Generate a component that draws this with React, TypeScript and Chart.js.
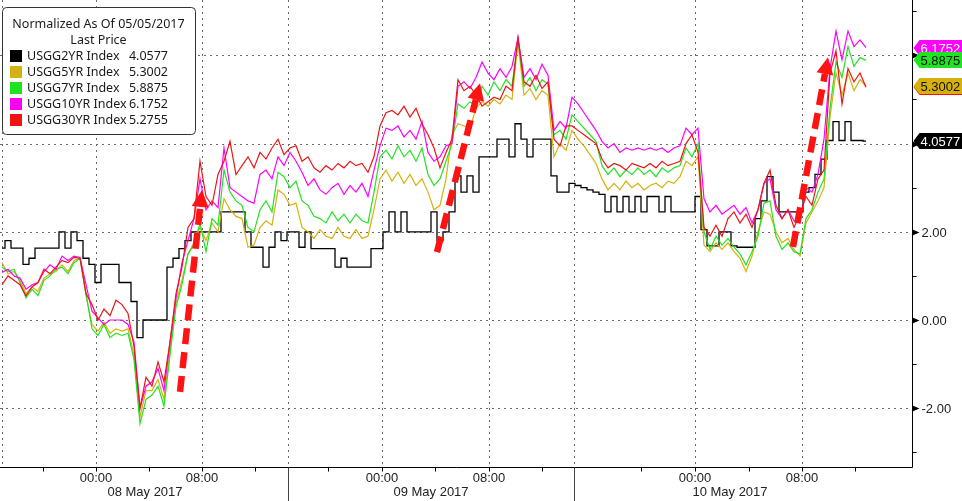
import React, { useEffect, useRef } from 'react';
import { Chart, registerables } from 'chart.js';

Chart.register(...registerables);

// ---- series (one sample per step along the intraday time axis) ----
const USGG2YR = [
  1.63, 1.8, 1.63, 1.63, 1.26, 1.4, 1.63, 1.63, 1.63, 1.63,
  2.0, 1.63, 2.0, 1.8, 1.4, 1.26, 0.85, 1.26, 1.26, 1.26,
  0.85, 0.85, 0.42, -0.4, 0.0, 0.0, 0.0, 0.0, 1.2, 1.4,
  1.62, 1.8, 2.0, 2.0, 2.0, 2.0, 2.0, 2.45, 2.45, 2.45,
  2.45, 2.0, 1.65, 1.65, 1.2, 1.65, 2.0, 1.8, 2.0, 2.0,
  1.65, 2.0, 1.62, 1.62, 1.62, 1.62, 1.2, 1.4, 1.2, 1.2,
  1.2, 1.2, 1.62, 1.62, 2.0, 2.45, 2.0, 2.45, 2.0, 2.0,
  2.0, 2.0, 2.45, 1.8, 2.0, 2.45, 3.27, 2.9, 3.27, 2.9,
  3.7, 3.7, 3.7, 4.1, 4.1, 3.7, 4.45, 4.1, 3.7, 4.1,
  4.1, 4.1, 3.27, 2.9, 2.9, 3.1, 3.05, 3.0, 2.95, 2.9,
  2.85, 2.45, 2.8, 2.45, 2.8, 2.45, 2.8, 2.45, 2.8, 2.8,
  2.45, 2.8, 2.45, 2.45, 2.45, 2.45, 2.8, 2.05, 1.68, 1.68,
  2.0, 2.0, 1.68, 1.65, 1.65, 1.65, 2.3, 2.7, 3.25, 2.9,
  2.45, 2.45, 2.45, 2.45, 2.9, 3.0, 3.3, 3.65, 4.07, 4.5,
  4.07, 4.5, 4.07, 4.07, 4.0577,
];
const USGG5YR = [
  1.3, 1.05, 1.1, 0.9, 0.6, 0.75, 0.65, 0.95, 1.05, 1.1,
  1.25, 1.1, 1.35, 1.4, 0.55, -0.1, -0.25, -0.05, -0.3, -0.2,
  -0.25, -0.2, -0.8, -2.2, -1.6, -1.6, -1.35, -1.8, -0.7, 0.4,
  0.9, 1.5, 1.75, 2.1, 1.8, 2.2, 2.0, 2.75, 2.5, 2.35,
  2.3, 1.65, 1.7, 2.1, 2.25, 2.15, 2.95, 2.85, 2.6, 2.65,
  2.1, 2.0, 1.85, 2.05, 1.9, 1.85, 2.1, 1.9, 1.85, 2.05,
  1.85, 1.9, 2.5, 3.2, 3.4, 3.15, 3.35, 3.1, 3.3, 3.05,
  3.2, 2.9, 2.5, 2.6, 3.2, 4.2, 4.45, 4.4, 4.35, 4.8,
  4.95, 4.85, 5.0, 4.9, 5.1, 5.0, 6.3, 5.1, 5.25, 5.0,
  5.2, 5.1, 3.7, 4.0, 3.85, 4.3, 4.1, 3.95, 3.75, 3.55,
  3.2, 2.95, 3.1, 2.95, 3.15, 3.0, 3.1, 2.95, 3.05, 3.1,
  3.0, 3.15, 3.1, 3.25, 3.6, 3.5, 3.7, 1.7, 1.55, 1.75,
  1.6, 1.75, 1.55, 1.4, 1.1, 1.45, 2.0, 2.45, 2.4, 2.0,
  1.75, 1.85, 1.6, 1.45, 2.2, 2.45, 2.7, 3.0, 4.6, 5.6,
  5.1, 5.6, 5.2, 5.45, 5.3002,
];
const USGG7YR = [
  1.2, 1.1, 1.15, 0.85, 0.5, 0.7, 0.55, 0.9, 1.0, 1.15,
  1.2, 1.05, 1.3, 1.4, 0.6, -0.2, -0.35, -0.1, -0.4, -0.3,
  -0.35, -0.3, -0.9, -2.35, -1.8, -1.7, -1.5, -1.95, -0.8, 0.3,
  0.8, 1.5, 1.7, 2.2, 1.55, 2.3, 2.15, 3.4, 2.9, 2.7,
  2.6, 2.1, 2.0, 2.5, 2.7, 2.45, 3.35, 3.25, 3.0, 3.15,
  2.7, 2.6, 2.35, 2.3, 2.2, 2.45, 2.25, 2.4, 2.2, 2.4,
  2.25, 2.2, 2.9, 3.7, 3.85, 3.65, 3.95, 3.7, 3.85, 3.6,
  3.9, 3.3, 3.05, 3.2, 3.6, 4.0, 4.9, 4.8, 4.95, 4.85,
  5.3, 5.1, 5.4, 5.2, 5.45, 5.3, 6.35, 5.3, 5.5, 5.2,
  5.45, 5.35, 4.2, 4.3, 4.1, 4.65, 4.5, 4.35, 4.2, 4.05,
  3.5, 3.3, 3.45, 3.25, 3.4, 3.3, 3.45, 3.3, 3.4, 3.25,
  3.45, 3.35, 3.45, 3.5, 3.9, 3.7, 4.0, 2.0, 1.6, 1.9,
  1.7, 1.85, 1.65, 1.5, 1.25, 1.55, 1.9, 2.65, 2.7, 1.9,
  1.6, 1.75, 1.55, 1.5, 2.3, 2.5, 2.9, 3.2, 4.8, 5.85,
  5.5, 6.2, 5.75, 5.95, 5.8875,
];
const USGG10YR = [
  1.08, 1.15, 1.0, 0.95, 0.7, 0.8, 0.85, 1.1, 1.25, 1.15,
  1.45, 1.35, 1.45, 1.42, 0.8, 0.2, 0.05, -0.1, 0.0, 0.0,
  0.0, -0.1, -0.5, -2.0, -1.5, -1.4, -1.1, -1.6, -0.5, 0.5,
  1.3, 1.8, 2.3, 3.2, 2.5, 2.7, 2.55, 3.9, 3.0, 2.9,
  2.8, 2.7, 2.65, 3.3, 3.4, 3.2, 3.7, 3.5, 3.8, 3.6,
  3.35, 3.05, 3.2, 2.95, 2.85, 3.0, 3.1, 2.85, 3.05, 2.9,
  3.1, 2.8, 3.4, 3.95, 4.35, 4.3, 4.4, 4.15, 4.3, 4.1,
  4.5, 3.8, 3.6, 3.7, 3.95, 4.0, 5.3, 5.4, 5.25, 5.5,
  5.85, 5.6, 5.45, 5.7, 5.5, 5.75, 6.4, 5.5, 5.7, 5.45,
  5.8, 5.55, 4.3, 4.5, 4.35, 5.05, 4.9, 4.7, 4.5, 4.3,
  4.05, 3.9, 4.0, 3.8, 3.9, 3.85, 3.9, 3.85, 3.9, 3.85,
  3.9, 3.8, 3.9, 3.95, 4.35, 4.2, 4.35, 2.75, 2.45, 2.6,
  2.4, 2.5, 2.6, 2.4, 2.55, 2.2, 2.5, 3.1, 3.2, 2.5,
  2.3, 2.5, 2.25, 2.2, 3.0, 2.9, 3.3, 4.1, 5.7, 6.55,
  5.9, 6.55, 6.2, 6.35, 6.1752,
];
const USGG30YR = [
  0.8, 1.0, 0.9, 0.8, 0.55, 0.75, 0.85, 1.15, 1.05, 1.2,
  1.35, 1.3, 1.42, 1.4, 0.6, 0.35, 0.0, 0.25, 0.1, 0.45,
  0.35, 0.15, -0.6, -2.0, -1.3, -1.5, -0.95, -1.4, -0.5, 0.6,
  1.2, 2.1, 2.3, 3.6, 2.8, 2.6, 3.3, 3.6, 4.05, 3.3,
  3.5, 3.7, 3.45, 3.8, 3.65, 3.9, 4.1, 3.75, 3.9, 3.95,
  3.6, 3.7, 3.45, 3.35, 3.5, 3.4, 3.55, 3.45, 3.6, 3.5,
  3.55, 3.35, 3.7, 4.4, 4.7, 4.75, 4.65, 4.85, 4.6, 4.8,
  4.45, 4.2, 3.9, 3.45, 3.8, 4.1, 5.45, 5.2, 5.3, 5.1,
  4.85, 4.95, 5.05, 5.0, 5.3, 5.2, 6.4, 5.4, 5.3, 5.55,
  5.25, 5.4, 4.1, 3.95, 4.4, 4.4, 4.3, 4.2, 4.1, 4.0,
  3.65, 3.45, 3.55, 3.5, 3.4, 3.55, 3.5, 3.45, 3.55, 3.45,
  3.6, 3.5, 3.55, 3.6, 4.0, 4.2, 3.8, 2.1, 1.9, 2.15,
  1.9, 2.3, 2.45, 2.2, 2.4, 2.1, 2.5, 3.1, 3.4, 2.6,
  2.3, 2.5, 2.1, 2.4, 2.8, 2.6, 3.2, 3.4, 5.6, 6.1,
  4.9, 5.7, 5.4, 5.6, 5.2755,
];

const SERIES = [USGG2YR, USGG5YR, USGG7YR, USGG10YR, USGG30YR];
const SERIES_NAMES = ['USGG2YR Index', 'USGG5YR Index', 'USGG7YR Index', 'USGG10YR Index', 'USGG30YR Index'];
const LAST_PRICES = ['4.0577', '5.3002', '5.8875', '6.1752', '5.2755'];
const SERIES_COLORS = ['#000000', '#d6b10d', '#22e322', '#ff00ff', '#ee1414'];
const BADGE_TEXT_COLORS = ['#ffffff', '#111111', '#111111', '#ffffff', '#ffffff'];
const SERIES_ORDER = [4, 3, 2, 1, 0];
const SERIES_STEPPED = ['middle', false, false, false, false];
const LEGEND_TITLE = ['Normalized As Of 05/05/2017', 'Last Price'];

// ---- axes ----
const Y_MIN = -3.333;
const Y_MAX = 7.256;
const Y_MAJOR_TICKS = [-2, 0, 2, 4, 6];
const Y_TICK_LABELS = ['-2.00', '0.00', '2.00', '', ''];
const Y_MINOR_TICKS = [-3, -1, 1, 3, 5, 7];

const X_MIN = -0.333;
const X_MAX = 151.667;
const TIME_TICKS = [15.67, 33.33, 63.33, 81.17, 115.5, 133.33];
const TIME_LABELS = ['00:00', '08:00', '00:00', '08:00', '00:00', '08:00'];
const HOUR_TICKS = [6.83, 15.67, 24.5, 33.33, 42.17, 54.33, 63.33, 72.17, 81.17, 90.0, 106.58, 115.5, 124.42, 133.33, 142.25];
const SESSION_BOUNDS = [0, 47.67, 95.33];
const DAY_LABELS = ['08 May 2017', '09 May 2017', '10 May 2017'];
const DAY_LABEL_POS = [23.83, 71.5, 121.33];

// ---- annotation arrows: [fromX, fromY, toX, toY] ----
const ARROWS = [
  [29.67, -1.63, 33.33, 2.95],
  [72.5, 1.54, 79.67, 5.37],
  [131.83, 1.66, 137.67, 5.96],
];

const AXIS_FONT = '13px "Liberation Sans Narrow", "Liberation Sans", Arial, sans-serif';
const LEGEND_FONT = '12.5px "Noto Sans", "DejaVu Sans", sans-serif';

const decorations = {
  id: 'bbgDecorations',
  beforeDatasetsDraw(chart: any) {
    const { ctx, chartArea: a, scales } = chart;
    const x = scales.x, y = scales.y;
    ctx.save();
    ctx.strokeStyle = '#6a6a6a';
    ctx.lineWidth = 1;
    ctx.setLineDash([2, 4]);
    for (const v of Y_MAJOR_TICKS) {
      const py = Math.round(y.getPixelForValue(v)) + 0.5;
      ctx.beginPath(); ctx.moveTo(a.left, py); ctx.lineTo(a.right, py); ctx.stroke();
    }
    for (const v of [...SESSION_BOUNDS, ...TIME_TICKS]) {
      const px = Math.round(x.getPixelForValue(v)) + 0.5;
      ctx.beginPath(); ctx.moveTo(px, a.top); ctx.lineTo(px, a.bottom); ctx.stroke();
    }
    ctx.restore();
  },
  afterDatasetsDraw(chart: any) {
    const { ctx, chartArea: a, scales } = chart;
    const x = scales.x, y = scales.y;
    const W = chart.width, H = chart.height;
    ctx.save();

    // arrows
    ctx.strokeStyle = '#ff1212';
    ctx.fillStyle = '#ff1212';
    for (const [x0, y0, x1, y1] of ARROWS) {
      const sx = x.getPixelForValue(x0), sy = y.getPixelForValue(y0);
      const ex = x.getPixelForValue(x1), ey = y.getPixelForValue(y1);
      const dx = ex - sx, dy = ey - sy, len = Math.hypot(dx, dy);
      const ux = dx / len, uy = dy / len;
      const head = 17, half = 8.5;
      const bx = ex - ux * head, by = ey - uy * head;
      ctx.lineWidth = 6.5;
      ctx.setLineDash([16, 8]);
      ctx.beginPath(); ctx.moveTo(sx, sy); ctx.lineTo(bx, by); ctx.stroke();
      ctx.setLineDash([]);
      ctx.beginPath();
      ctx.moveTo(ex, ey);
      ctx.lineTo(bx - uy * half, by + ux * half);
      ctx.lineTo(bx + uy * half, by - ux * half);
      ctx.closePath();
      ctx.fill();
    }

    // axes lines
    ctx.setLineDash([]);
    ctx.strokeStyle = '#000';
    ctx.lineWidth = 1;
    const axY = Math.round(a.bottom) + 0.5;
    const axX = Math.round(a.right) + 0.5;
    ctx.beginPath(); ctx.moveTo(a.left, axY); ctx.lineTo(axX, axY); ctx.stroke();
    ctx.beginPath(); ctx.moveTo(axX, a.top); ctx.lineTo(axX, axY); ctx.stroke();

    // y ticks
    for (const v of Y_MINOR_TICKS) {
      const py = Math.round(y.getPixelForValue(v)) + 0.5;
      ctx.beginPath(); ctx.moveTo(axX, py); ctx.lineTo(axX + 4, py); ctx.stroke();
    }
    ctx.font = AXIS_FONT;
    ctx.textAlign = 'left';
    ctx.textBaseline = 'middle';
    Y_MAJOR_TICKS.forEach((v, i) => {
      const py = Math.round(y.getPixelForValue(v)) + 0.5;
      ctx.fillStyle = '#000';
      ctx.beginPath();
      ctx.moveTo(axX, py - 3); ctx.lineTo(axX + 7, py); ctx.lineTo(axX, py + 3);
      ctx.closePath(); ctx.fill();
      if (Y_TICK_LABELS[i]) {
        ctx.fillStyle = '#222';
        ctx.fillText(Y_TICK_LABELS[i], axX + 9, py + 1);
      }
    });

    // x ticks
    for (const v of HOUR_TICKS) {
      const px = Math.round(x.getPixelForValue(v)) + 0.5;
      ctx.beginPath(); ctx.moveTo(px, axY); ctx.lineTo(px, axY + 4); ctx.stroke();
    }
    ctx.strokeStyle = '#444';
    for (const v of SESSION_BOUNDS.slice(1)) {
      const px = Math.round(x.getPixelForValue(v)) + 0.5;
      ctx.beginPath(); ctx.moveTo(px, axY); ctx.lineTo(px, H); ctx.stroke();
    }
    ctx.fillStyle = '#222';
    ctx.textAlign = 'center';
    TIME_TICKS.forEach((v, i) => {
      ctx.fillText(TIME_LABELS[i], x.getPixelForValue(v), axY + 11);
    });
    DAY_LABEL_POS.forEach((v, i) => {
      ctx.fillText(DAY_LABELS[i], x.getPixelForValue(v), axY + 25);
    });

    // legend box
    ctx.fillStyle = '#fff';
    ctx.strokeStyle = '#333';
    ctx.beginPath();
    (ctx as any).roundRect(2.5, 7.5, 193, 127, 4);
    ctx.fill(); ctx.stroke();
    ctx.font = LEGEND_FONT;
    ctx.fillStyle = '#1a1a1a';
    ctx.textAlign = 'center';
    ctx.fillText(LEGEND_TITLE[0], 98.5, 24);
    ctx.fillText(LEGEND_TITLE[1], 98.5, 40);
    SERIES_NAMES.forEach((name, i) => {
      const cy = 56 + i * 16;
      ctx.fillStyle = SERIES_COLORS[i];
      ctx.fillRect(10, cy - 6, 12, 12);
      ctx.fillStyle = '#1a1a1a';
      ctx.textAlign = 'left';
      ctx.fillText(name, 27, cy);
      ctx.textAlign = 'right';
      ctx.fillText(LAST_PRICES[i], 168, cy);
    });

    // last-value badges on the right axis
    ctx.font = AXIS_FONT;
    ctx.textAlign = 'left';
    for (let i = SERIES.length - 1; i >= 0; i--) {
      const cy = Math.round(y.getPixelForValue(parseFloat(LAST_PRICES[i])));
      ctx.fillStyle = SERIES_COLORS[i];
      ctx.beginPath();
      ctx.moveTo(axX + 1, cy);
      ctx.lineTo(axX + 7, cy - 8);
      ctx.lineTo(W, cy - 8);
      ctx.lineTo(W, cy + 8);
      ctx.lineTo(axX + 7, cy + 8);
      ctx.closePath();
      ctx.fill();
      ctx.fillStyle = BADGE_TEXT_COLORS[i];
      ctx.fillText(LAST_PRICES[i], axX + 8, cy + 1);
    }
    ctx.restore();
  },
};

export default function App() {
  const canvasRef = useRef<HTMLCanvasElement | null>(null);

  useEffect(() => {
    document.body.style.margin = '0';
    const canvas = canvasRef.current;
    if (!canvas) return;
    const datasets = SERIES.map((values, s) => ({
      label: SERIES_NAMES[s],
      data: values.map((v, i) => ({ x: i, y: v })),
      borderColor: SERIES_COLORS[s],
      backgroundColor: SERIES_COLORS[s],
      borderWidth: s === 0 ? 1.3 : 1.2,
      pointRadius: 0,
      tension: 0,
      stepped: SERIES_STEPPED[s],
      order: SERIES_ORDER[s],
      fill: false,
    }));
    const chart = new Chart(canvas, {
      type: 'line',
      data: { datasets } as any,
      options: {
        animation: false,
        responsive: false,
        maintainAspectRatio: false,
        devicePixelRatio: 1,
        layout: { padding: { left: 0, top: 0, right: 50, bottom: 34 } },
        plugins: { legend: { display: false }, tooltip: { enabled: false } },
        scales: {
          x: { type: 'linear', min: X_MIN, max: X_MAX, display: false },
          y: { type: 'linear', min: Y_MIN, max: Y_MAX, display: false },
        },
      } as any,
      plugins: [decorations],
    });
    return () => chart.destroy();
  }, []);

  return (
    <div style={{ position: 'absolute', left: 0, top: 0, width: 962, height: 501, background: '#fff' }}>
      <canvas ref={canvasRef} width={962} height={501} style={{ display: 'block' }} />
    </div>
  );
}
